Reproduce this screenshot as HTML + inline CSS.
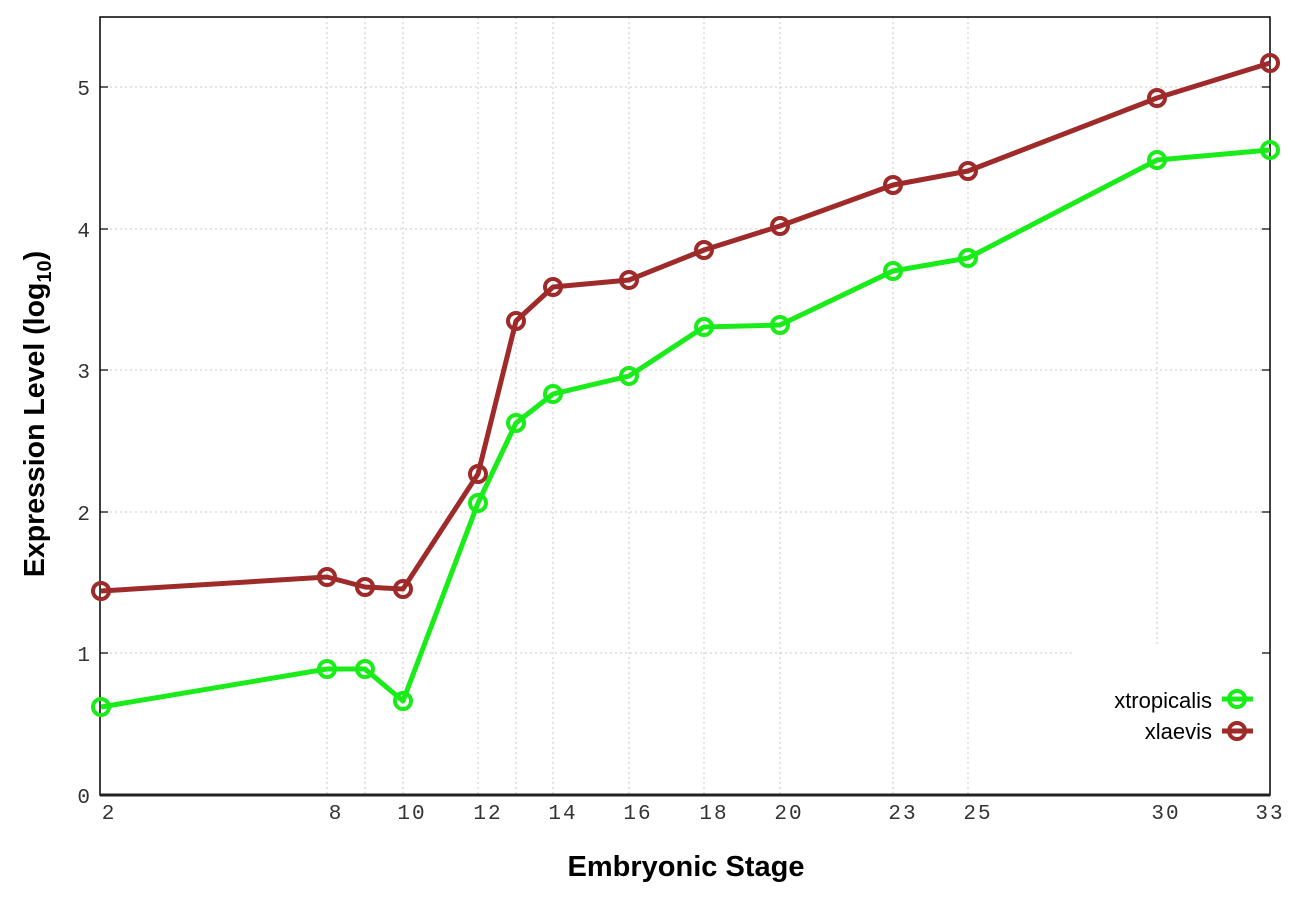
<!DOCTYPE html>
<html><head><meta charset="utf-8"><style>body{margin:0;background:#fff}svg{display:block}</style></head><body>
<svg width="1296" height="907" xmlns="http://www.w3.org/2000/svg">
<rect width="1296" height="907" fill="#fff"/>
<g stroke="#c8c8c8" stroke-width="1" stroke-dasharray="2,3">
<line x1="100" x2="1270" y1="653" y2="653"/><line x1="100" x2="1270" y1="512" y2="512"/><line x1="100" x2="1270" y1="370" y2="370"/><line x1="100" x2="1270" y1="229" y2="229"/><line x1="100" x2="1270" y1="87" y2="87"/>
<line x1="327" x2="327" y1="17" y2="795"/><line x1="365" x2="365" y1="17" y2="795"/><line x1="403" x2="403" y1="17" y2="795"/><line x1="478" x2="478" y1="17" y2="795"/><line x1="516" x2="516" y1="17" y2="795"/><line x1="553" x2="553" y1="17" y2="795"/><line x1="629" x2="629" y1="17" y2="795"/><line x1="704" x2="704" y1="17" y2="795"/><line x1="780" x2="780" y1="17" y2="795"/><line x1="893" x2="893" y1="17" y2="795"/><line x1="968" x2="968" y1="17" y2="795"/><line x1="1157" x2="1157" y1="17" y2="795"/>
</g>
<rect x="1072" y="645" width="197" height="149" fill="#fff"/>
<rect x="100" y="17" width="1170" height="778" fill="none" stroke="#000" stroke-width="1.5"/>
<line x1="100" x2="1270" y1="795" y2="795" stroke="#222" stroke-width="3"/>
<g stroke="#000" stroke-width="1.2">
<line x1="100" x2="108" y1="653" y2="653"/><line x1="100" x2="108" y1="512" y2="512"/><line x1="100" x2="108" y1="370" y2="370"/><line x1="100" x2="108" y1="229" y2="229"/><line x1="100" x2="108" y1="87" y2="87"/>
<line x1="1262" x2="1270" y1="653" y2="653"/><line x1="1262" x2="1270" y1="512" y2="512"/><line x1="1262" x2="1270" y1="370" y2="370"/><line x1="1262" x2="1270" y1="229" y2="229"/><line x1="1262" x2="1270" y1="87" y2="87"/>
</g>
<g font-family="Liberation Mono, monospace" font-size="21" fill="#333" text-anchor="end">
<text x="90" y="803">0</text><text x="90" y="661">1</text><text x="90" y="520">2</text><text x="90" y="378">3</text><text x="90" y="237">4</text><text x="90" y="95">5</text>
</g>
<g font-family="Liberation Mono, monospace" font-size="21" fill="#333" text-anchor="middle" letter-spacing="2">
<text x="109" y="819">2</text><text x="336" y="819">8</text><text x="412" y="819">10</text><text x="488" y="819">12</text><text x="563" y="819">14</text><text x="638" y="819">16</text><text x="714" y="819">18</text><text x="789" y="819">20</text><text x="903" y="819">23</text><text x="978" y="819">25</text><text x="1166" y="819">30</text><text x="1270" y="819">33</text>
</g>
<text x="686" y="876" font-family="Liberation Sans, sans-serif" font-weight="bold" font-size="29" text-anchor="middle">Embryonic Stage</text>
<text transform="translate(44,414) rotate(-90)" font-family="Liberation Sans, sans-serif" font-weight="bold" font-size="28.5" text-anchor="middle">Expression Level (log<tspan font-size="20" dy="7">10</tspan><tspan dy="-7">)</tspan></text>
<g fill="none" stroke-width="5" stroke-linejoin="round">
<polyline stroke="#9e2a2a" points="101,591 327,577 365,587 403,589 478,474 516,321 553,287 629,280 704,250 780,226 893,185 968,171 1157,98 1270,63"/>
<polyline stroke="#19ec19" points="101,707 327,669 365,669 403,701 478,503 516,423 553,394 629,376 704,327 780,325 893,271 968,258 1157,160 1270,150"/>
</g>
<g fill="none" stroke-width="4" stroke="#9e2a2a">
<circle cx="101" cy="591" r="8"/><circle cx="327" cy="577" r="8"/><circle cx="365" cy="587" r="8"/><circle cx="403" cy="589" r="8"/><circle cx="478" cy="474" r="8"/><circle cx="516" cy="321" r="8"/><circle cx="553" cy="287" r="8"/><circle cx="629" cy="280" r="8"/><circle cx="704" cy="250" r="8"/><circle cx="780" cy="226" r="8"/><circle cx="893" cy="185" r="8"/><circle cx="968" cy="171" r="8"/><circle cx="1157" cy="98" r="8"/><circle cx="1270" cy="63" r="8"/>
</g>
<g fill="none" stroke-width="4" stroke="#19ec19">
<circle cx="101" cy="707" r="8"/><circle cx="327" cy="669" r="8"/><circle cx="365" cy="669" r="8"/><circle cx="403" cy="701" r="8"/><circle cx="478" cy="503" r="8"/><circle cx="516" cy="423" r="8"/><circle cx="553" cy="394" r="8"/><circle cx="629" cy="376" r="8"/><circle cx="704" cy="327" r="8"/><circle cx="780" cy="325" r="8"/><circle cx="893" cy="271" r="8"/><circle cx="968" cy="258" r="8"/><circle cx="1157" cy="160" r="8"/><circle cx="1270" cy="150" r="8"/>
</g>
<g font-family="Liberation Sans, sans-serif" font-size="22" fill="#000" text-anchor="end">
<text x="1212" y="708">xtropicalis</text><text x="1212" y="739">xlaevis</text>
</g>
<line x1="1222" x2="1253" y1="699" y2="699" stroke="#19ec19" stroke-width="5"/>
<circle cx="1237" cy="699" r="8" fill="none" stroke="#19ec19" stroke-width="4"/>
<line x1="1222" x2="1253" y1="731" y2="731" stroke="#9e2a2a" stroke-width="5"/>
<circle cx="1237" cy="731" r="8" fill="none" stroke="#9e2a2a" stroke-width="4"/>
</svg>
</body></html>
